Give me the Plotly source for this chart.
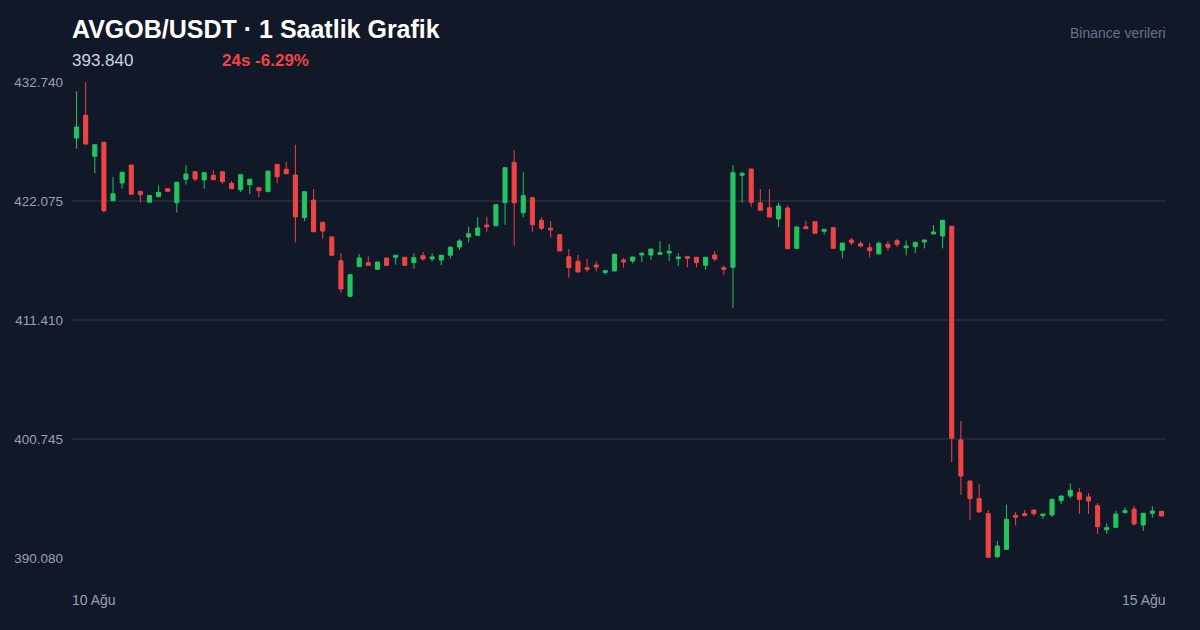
import pandas as pd
import plotly.graph_objects as go

# --- hourly OHLC ---
opens = [427.72, 429.76, 426.08, 427.34, 422.10, 423.69, 425.30, 422.94, 421.96, 422.46,
         423.18, 421.92, 424.02, 424.70, 423.96, 424.38, 424.70, 423.66, 423.09, 423.54,
         423.27, 422.91, 425.36, 424.92, 424.41, 420.58, 422.16, 420.17, 418.85, 416.72,
         413.53, 416.19, 416.55, 415.95, 416.97, 417.03, 417.03, 416.55, 417.17, 416.88,
         416.79, 417.21, 417.95, 418.85, 419.00, 419.92, 419.86, 421.92, 425.54, 421.03,
         422.37, 420.35, 419.63, 419.06, 417.08, 416.67, 416.10, 416.34, 415.68, 415.80,
         416.79, 416.70, 417.24, 417.24, 417.30, 417.41, 416.91, 417.08, 417.03, 416.31,
         417.24, 416.10, 416.13, 424.38, 424.94, 421.90, 421.47, 420.46, 421.45, 417.83,
         419.77, 420.22, 419.36, 419.68, 417.66, 418.58, 418.25, 417.89, 417.33, 418.19,
         418.52, 417.89, 417.98, 418.40, 419.12, 418.94, 419.81, 400.66, 396.98, 395.40,
         394.05, 390.20, 390.86, 393.91, 394.05, 394.38, 393.87, 393.93, 395.22, 395.64,
         395.93, 395.55, 394.77, 392.62, 392.83, 394.14, 394.47, 393.04, 394.09, 394.26]
highs = [431.91, 432.74, 427.12, 427.34, 424.23, 424.65, 425.30, 422.94, 422.58, 423.48,
         423.18, 423.80, 425.27, 424.70, 424.61, 424.83, 424.70, 423.87, 424.43, 424.02,
         423.27, 424.76, 425.36, 425.57, 427.12, 422.91, 423.15, 420.17, 418.90, 417.41,
         415.47, 417.33, 417.12, 416.61, 416.97, 417.21, 417.03, 417.39, 417.50, 417.39,
         417.21, 418.04, 418.67, 419.77, 420.61, 420.67, 421.74, 425.06, 426.65, 424.65,
         422.37, 420.61, 420.28, 419.06, 417.77, 417.24, 416.88, 416.67, 415.83, 417.30,
         416.97, 417.06, 417.48, 417.77, 418.49, 418.22, 417.41, 417.17, 417.03, 417.03,
         417.59, 416.28, 425.30, 424.70, 424.94, 423.15, 423.15, 421.90, 421.69, 419.75,
         420.31, 420.22, 419.54, 419.68, 418.31, 418.76, 418.49, 418.34, 418.46, 418.49,
         418.70, 418.55, 418.37, 418.58, 419.90, 420.35, 419.81, 402.36, 396.98, 396.71,
         394.38, 391.63, 394.86, 394.20, 394.38, 394.38, 394.02, 395.34, 395.64, 396.77,
         396.35, 395.91, 395.01, 393.19, 394.32, 394.62, 394.74, 394.09, 394.71, 394.26]
lows = [426.76, 427.18, 424.58, 421.03, 422.10, 423.18, 422.68, 421.92, 421.96, 422.46,
        422.94, 421.03, 423.54, 423.84, 423.18, 423.98, 423.63, 423.18, 422.88, 422.70,
        422.41, 422.91, 423.66, 424.52, 418.37, 420.28, 419.32, 418.70, 417.21, 413.86,
        413.53, 416.19, 416.31, 415.95, 416.31, 416.37, 416.31, 416.01, 416.72, 416.67,
        416.31, 416.91, 417.68, 418.37, 419.00, 419.32, 419.86, 419.95, 418.07, 420.61,
        419.32, 419.48, 418.79, 417.59, 415.20, 415.71, 415.74, 415.77, 415.47, 415.80,
        416.10, 416.49, 416.61, 416.79, 417.30, 416.72, 416.25, 416.13, 416.13, 415.92,
        416.67, 415.47, 412.46, 421.92, 421.54, 421.24, 420.64, 419.72, 417.80, 417.83,
        419.59, 419.18, 419.06, 417.83, 416.94, 418.13, 417.93, 417.00, 417.33, 417.62,
        417.95, 417.21, 417.39, 417.83, 419.12, 417.83, 398.68, 395.73, 393.49, 394.20,
        390.14, 390.08, 390.86, 393.01, 393.87, 393.87, 393.60, 393.75, 394.92, 395.43,
        394.02, 394.02, 392.23, 392.26, 392.83, 394.14, 392.98, 392.50, 393.69, 393.84]
closes = [428.71, 427.18, 427.12, 421.21, 422.73, 424.65, 422.68, 422.64, 422.58, 422.85,
          422.94, 423.75, 424.49, 424.05, 424.61, 423.98, 423.81, 423.18, 424.43, 424.02,
          423.00, 424.76, 424.25, 424.52, 420.64, 422.91, 419.32, 419.39, 417.21, 414.19,
          415.47, 416.97, 416.31, 416.61, 416.31, 417.21, 416.31, 416.99, 416.88, 417.06,
          417.21, 417.93, 418.49, 419.14, 419.66, 419.77, 421.74, 425.06, 421.92, 422.55,
          419.95, 419.63, 419.48, 417.59, 416.10, 415.71, 415.95, 416.16, 415.83, 417.30,
          416.61, 417.06, 417.39, 417.77, 417.44, 417.57, 417.06, 416.94, 416.55, 417.03,
          416.88, 415.95, 424.61, 424.56, 421.96, 421.24, 420.64, 421.63, 417.80, 419.75,
          419.59, 419.18, 419.54, 417.83, 418.31, 418.34, 418.04, 417.62, 418.28, 417.93,
          418.19, 418.04, 418.37, 418.58, 419.30, 420.35, 400.81, 397.43, 395.40, 394.20,
          390.14, 391.15, 393.55, 393.73, 393.87, 394.05, 394.02, 395.34, 395.64, 396.15,
          395.34, 395.19, 392.89, 392.80, 394.02, 394.32, 393.13, 394.09, 394.29, 393.84]

y_ticks = [390.080, 400.745, 411.410, 422.075, 432.740]
x_labels = ["10 Ağu", "15 Ağu"]

title_text = "AVGOB/USDT · 1 Saatlik Grafik"
last_price = "393.840"
change_text = "24s -6.29%"
source_text = "Binance verileri"

times = pd.date_range("2025-08-10 03:00", periods=len(opens), freq="h")

BG = "#111827"
GRID = "#1f2937"
UP = "#22c55e"
DOWN = "#ef4444"
MUTED = "#94a3b8"
FONT = "Liberation Sans, Arial, sans-serif"

fig = go.Figure(go.Candlestick(
    x=times, open=opens, high=highs, low=lows, close=closes,
    increasing=dict(line=dict(color=UP, width=1), fillcolor=UP),
    decreasing=dict(line=dict(color=DOWN, width=1), fillcolor=DOWN),
    whiskerwidth=0,
    showlegend=False,
))

half = pd.Timedelta(minutes=30)
fig.update_layout(
    width=1200, height=630,
    paper_bgcolor=BG, plot_bgcolor=BG,
    margin=dict(l=72, r=34, t=82, b=72),
    font=dict(family=FONT, color=MUTED, size=13),
    boxgap=0.36,
    xaxis=dict(range=[times[0] - half, times[-1] + half], showgrid=False,
               showticklabels=False, zeroline=False, rangeslider=dict(visible=False)),
    yaxis=dict(range=[y_ticks[0], y_ticks[-1]], tickvals=y_ticks, tickformat=".3f",
               gridcolor=GRID, gridwidth=1.5, zeroline=False, ticks="",
               ticklabelstandoff=8, tickfont=dict(size=13.5, color=MUTED)),
)

# header (annotations carry 1px padding, hence the small xshifts)
fig.add_annotation(text=f"<b>{title_text}</b>", xref="paper", yref="paper", x=0, y=1,
                   xanchor="left", yanchor="bottom", xshift=-2, yshift=37, showarrow=False,
                   font=dict(size=25, color="#ffffff"))
fig.add_annotation(text=last_price, x=0, xref="paper", y=1, yref="paper",
                   xanchor="left", yanchor="bottom", xshift=-2, yshift=10, showarrow=False,
                   font=dict(size=17, color="#cbd5e1"))
fig.add_annotation(text=f"<b>{change_text}</b>", xref="paper", yref="paper",
                   x=150 / 1094, y=1, xanchor="left", yanchor="bottom", xshift=-2, yshift=10,
                   showarrow=False, font=dict(size=17, color=DOWN))
fig.add_annotation(text=source_text, xref="paper", yref="paper", x=1, y=1,
                   xanchor="right", yanchor="bottom", xshift=2, yshift=39, showarrow=False,
                   font=dict(size=14, color="#64748b"))

# first / last date under the axis
for pos, lab in zip([0, 1], x_labels):
    fig.add_annotation(text=lab, xref="paper", yref="paper", x=pos, y=0,
                       xanchor="left" if pos == 0 else "right", yanchor="top",
                       xshift=-2 if pos == 0 else 2, yshift=-32, showarrow=False,
                       font=dict(size=14, color=MUTED))

# page body has a default 8px margin; drop it so the chart fills the window
fig.write_html("out.html", config={"displayModeBar": False},
               post_script="document.body.style.margin='0';")
